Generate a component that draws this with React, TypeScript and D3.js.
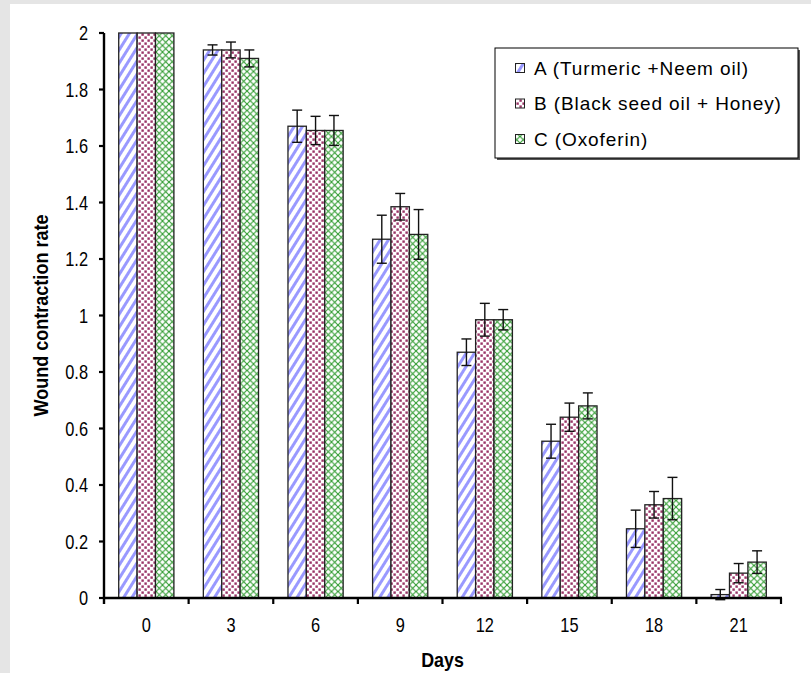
import React from 'react';
import * as d3 from 'd3';

const days = ['0', '3', '6', '9', '12', '15', '18', '21'];
const seriesKeys = ['A', 'B', 'C'];
const seriesLabels = ['A (Turmeric +Neem oil)', 'B (Black seed oil + Honey)', 'C (Oxoferin)'];

const valuesA = [2, 1.94, 1.67, 1.27, 0.87, 0.555, 0.245, 0.012];
const valuesB = [2, 1.94, 1.655, 1.385, 0.985, 0.64, 0.33, 0.088];
const valuesC = [2, 1.91, 1.655, 1.287, 0.985, 0.68, 0.352, 0.127];

const errA = [0, 0.018, 0.057, 0.085, 0.047, 0.06, 0.066, 0.018];
const errB = [0, 0.028, 0.05, 0.047, 0.058, 0.05, 0.047, 0.034];
const errC = [0, 0.03, 0.053, 0.088, 0.036, 0.046, 0.075, 0.04];

const yTicks = [0, 0.2, 0.4, 0.6, 0.8, 1, 1.2, 1.4, 1.6, 1.8, 2];

const W = 811;
const H = 673;
const margin = { left: 104, right: 30, top: 33, bottom: 75 };
const font = '"Liberation Sans", Arial, sans-serif';

const App: React.FC = () => {
  const x = d3.scaleBand<string>()
    .domain(days)
    .range([margin.left, W - margin.right])
    .padding(0);

  const xSub = d3.scaleBand<string>()
    .domain(seriesKeys)
    .range([0, x.bandwidth()])
    .paddingInner(0)
    .paddingOuter(0.8);

  const y = d3.scaleLinear()
    .domain([0, 2])
    .range([H - margin.bottom, margin.top]);

  const series = [
    { key: 'A', values: valuesA, errs: errA, fill: 'url(#patA)' },
    { key: 'B', values: valuesB, errs: errB, fill: 'url(#patB)' },
    { key: 'C', values: valuesC, errs: errC, fill: 'url(#patC)' }
  ];

  const y0 = y(0);
  const xStart = margin.left;
  const xEnd = W - margin.right;
  const tickFmt = d3.format('');

  // legend geometry
  const lg = { x: 495, y: 48, w: 303, h: 110 };

  return (
    <svg width={W} height={H} style={{ position: 'absolute', left: 0, top: 0 }}>
      <defs>
        <pattern id="patA" width="7" height="7" patternUnits="userSpaceOnUse" patternTransform="rotate(32)">
          <rect width="7" height="7" fill="#fff" />
          <rect x="0" y="0" width="3" height="7" fill="#9999ff" />
        </pattern>
        <pattern id="patB" width="6" height="6" patternUnits="userSpaceOnUse">
          <rect width="6" height="6" fill="#fff" />
          <rect x="0.4" y="0.4" width="2.4" height="2.4" fill="#993366" />
          <rect x="3.4" y="3.4" width="2.4" height="2.4" fill="#993366" />
        </pattern>
        <pattern id="patC" width="6.5" height="6.5" patternUnits="userSpaceOnUse">
          <rect width="6.5" height="6.5" fill="#fff" />
          <path d="M0,0 L6.5,6.5 M6.5,0 L0,6.5" stroke="#2e9a2e" strokeWidth="1.1" />
        </pattern>
      </defs>

      <rect width={W} height={H} fill="#e5e5e5" />
      <rect x={10} y={4} width={W - 10} height={H - 4} fill="#fff" />

      {/* bars */}
      {series.map((s) => (
        <g key={s.key}>
          {days.map((d, i) => {
            const bx = (x(d) || 0) + (xSub(s.key) || 0);
            const by = y(s.values[i]);
            return (
              <rect
                key={d}
                x={bx}
                y={by}
                width={xSub.bandwidth()}
                height={y0 - by}
                fill={s.fill}
                stroke="#222"
                strokeWidth={1.3}
              />
            );
          })}
        </g>
      ))}

      {/* error bars */}
      {series.map((s) => (
        <g key={'err' + s.key} stroke="#111" strokeWidth={1.4}>
          {days.map((d, i) => {
            if (!s.errs[i]) return null;
            const cx = (x(d) || 0) + (xSub(s.key) || 0) + xSub.bandwidth() / 2;
            const top = y(s.values[i] + s.errs[i]);
            const bot = y(s.values[i] - s.errs[i]);
            return (
              <g key={d}>
                <line x1={cx} x2={cx} y1={top} y2={bot} />
                <line x1={cx - 5} x2={cx + 5} y1={top} y2={top} />
                <line x1={cx - 5} x2={cx + 5} y1={bot} y2={bot} />
              </g>
            );
          })}
        </g>
      ))}

      {/* y axis */}
      <line x1={xStart} x2={xStart} y1={y(2)} y2={y0 + 6} stroke="#000" strokeWidth={2.4} />
      {yTicks.map((t) => (
        <g key={t}>
          <line x1={xStart - 5} x2={xStart} y1={y(t)} y2={y(t)} stroke="#000" strokeWidth={2.2} />
          <text
            transform={`translate(88,${y(t)}) scale(0.82,1)`}
            textAnchor="end"
            dominantBaseline="central"
            fontFamily={font}
            fontSize={20}
            fill="#000"
          >
            {tickFmt(t)}
          </text>
        </g>
      ))}

      {/* x axis */}
      <line x1={xStart} x2={xEnd + 1} y1={y0} y2={y0} stroke="#000" strokeWidth={2.4} />
      {days.map((d) => (
        <line key={'t' + d} x1={(x(d) || 0) + x.bandwidth()} x2={(x(d) || 0) + x.bandwidth()} y1={y0} y2={y0 + 6} stroke="#000" strokeWidth={2.2} />
      ))}
      {days.map((d) => (
        <text
          key={'l' + d}
          transform={`translate(${(x(d) || 0) + x.bandwidth() / 2},${y0 + 27}) scale(0.82,1)`}
          textAnchor="middle"
          dominantBaseline="central"
          fontFamily={font}
          fontSize={20}
          fill="#000"
        >
          {d}
        </text>
      ))}

      {/* axis titles */}
      <text
        transform={`translate(${(xStart + xEnd) / 2},${y0 + 61}) scale(0.85,1)`}
        textAnchor="middle"
        dominantBaseline="central"
        fontFamily={font}
        fontWeight="bold"
        fontSize={21}
      >
        Days
      </text>
      <text
        transform={`translate(41,${(y(2) + y0) / 2}) rotate(-90) scale(0.88,1)`}
        textAnchor="middle"
        dominantBaseline="central"
        fontFamily={font}
        fontWeight="bold"
        fontSize={20.5}
      >
        Wound contraction rate
      </text>

      {/* legend */}
      <rect x={lg.x + 2} y={lg.y + 2} width={lg.w} height={lg.h} fill="#555" />
      <rect x={lg.x} y={lg.y} width={lg.w} height={lg.h} fill="#fff" stroke="#000" strokeWidth={1} />
      {seriesLabels.map((label, i) => {
        const cy = lg.y + 20 + i * 35.5;
        return (
          <g key={label}>
            <rect x={lg.x + 20.5} y={cy - 4.5} width={9} height={9} fill={series[i].fill} stroke="#222" strokeWidth={1} />
            <text
              x={lg.x + 39}
              y={cy}
              dominantBaseline="central"
              fontFamily={font}
              fontSize={19}
              letterSpacing={0.9}
              fill="#000"
            >
              {label}
            </text>
          </g>
        );
      })}
    </svg>
  );
};

export default App;
